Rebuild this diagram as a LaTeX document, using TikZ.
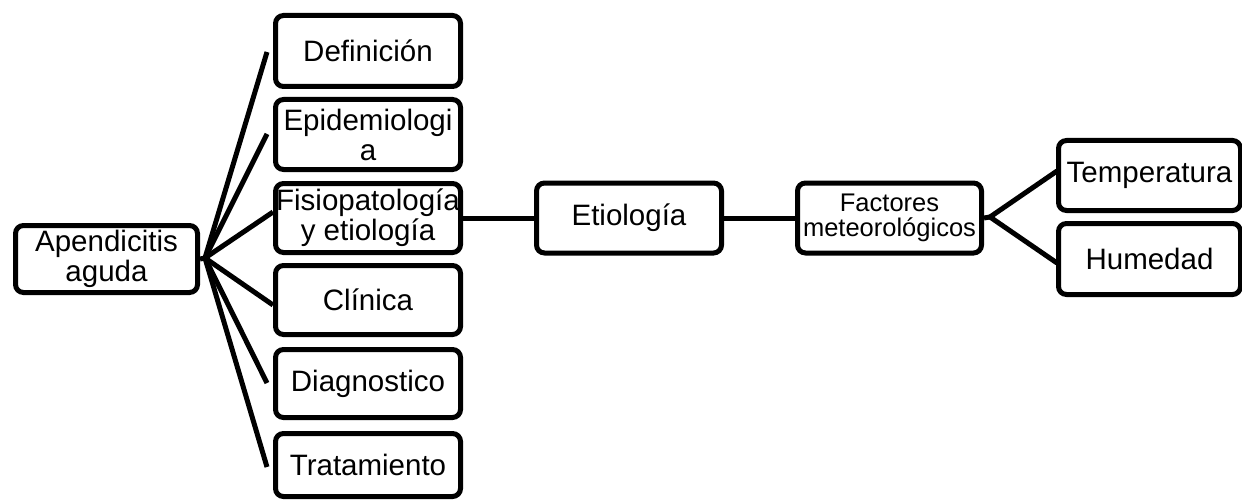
\documentclass[tikz,border=0pt]{standalone}
\usepackage{fontspec}
\setmainfont{Liberation Sans}
\begin{document}
\begin{tikzpicture}[x=1pt,y=-1pt,
  box/.style={draw=black, line width=5pt, rounded corners=8pt, fill=white,
    inner sep=0pt, align=center, font=\fontsize{29.5}{30}\selectfont},
  smallbox/.style={box, font=\fontsize{25.5}{25}\selectfont},
  link/.style={draw=black, line width=5pt}]
\useasboundingbox (0,0) rectangle (1242,500);

% nodes
\node[box, minimum width=182pt, minimum height=67pt] (A) at (106.5,259) {Apendicitis\\aguda};
\node[box, minimum width=185pt, minimum height=71pt] (def) at (368,51) {Definición};
\node[box, minimum width=185pt, minimum height=70pt] (epi) at (368,134.5) {Epidemiologi\\a};
\node[box, minimum width=185pt, minimum height=69pt] (fis) at (368,218) {Fisiopatología\\y etiología};
\node[box, minimum width=185pt, minimum height=69pt] (cli) at (368,300) {Clínica};
\node[box, minimum width=185pt, minimum height=68pt] (dia) at (368,383.5) {Diagnostico};
\node[box, minimum width=185pt, minimum height=63pt] (tra) at (368,465) {Tratamiento};
\node[box, minimum width=185pt, minimum height=70pt] (eti) at (629,218) {Etiología};
\node[smallbox, minimum width=184pt, minimum height=70pt] (fac) at (889.5,218) {Factores\\meteorológicos};
\node[box, minimum width=182pt, minimum height=70pt] (tem) at (1149.5,175.5) {Temperatura};
\node[box, minimum width=182pt, minimum height=71pt] (hum) at (1149.5,259) {Humedad};

% connector points
\coordinate (hubL) at (205,258);
\coordinate (hubR) at (990,217);
\coordinate (eDef) at (267,52);
\coordinate (eEpi) at (267,134);
\coordinate (eFis) at (273,212);
\coordinate (eCli) at (273,305);
\coordinate (eDia) at (267,383);
\coordinate (eTra) at (267,467);
\coordinate (eTem) at (1057,171);
\coordinate (eHum) at (1057,263);

% connectors
\draw[link] (A.east) -- (hubL);
\draw[link] (hubL) -- (eDef);
\draw[link] (hubL) -- (eEpi);
\draw[link] (hubL) -- (eFis);
\draw[link] (hubL) -- (eCli);
\draw[link] (hubL) -- (eDia);
\draw[link] (hubL) -- (eTra);
\draw[link] (fis.east) -- (eti.west);
\draw[link] (eti.east) -- (fac.west);
\draw[link] (fac.east) -- (hubR);
\draw[link] (hubR) -- (eTem);
\draw[link] (hubR) -- (eHum);
\end{tikzpicture}
\end{document}
